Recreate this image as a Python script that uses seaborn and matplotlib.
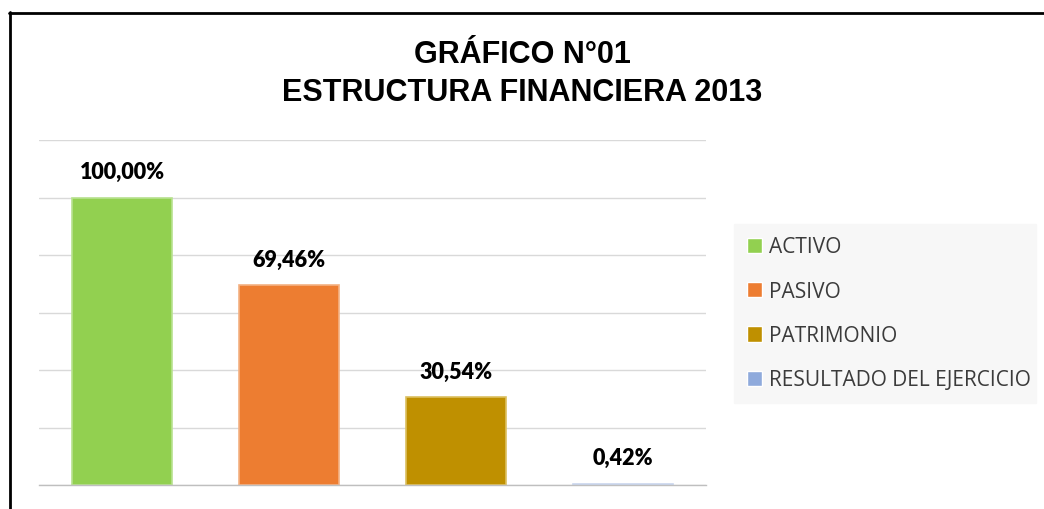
import matplotlib
matplotlib.use("Agg")
import matplotlib.pyplot as plt
import seaborn as sns
import pandas as pd
from matplotlib.lines import Line2D

# ============================================================
# DATA
# ============================================================

categorias = ["ACTIVO", "PASIVO", "PATRIMONIO", "RESULTADO DEL EJERCICIO"]
porcentajes = [100.00, 69.46, 30.54, 0.42]
etiquetas = ["100,00%", "69,46%", "30,54%", "0,42%"]
colores = ["#92d050", "#ed7d31", "#bf9000", "#8faadc"]
bordes = ["#b8e28f", "#f4b183", "#dcc060", "#c9d6ee"]

titulo = "GRÁFICO N°01\nESTRUCTURA FINANCIERA 2013"

# ============================================================
# PLOT
# ============================================================

sns.set_style("white")
plt.rcParams["font.family"] = ["Liberation Sans", "DejaVu Sans"]

df = pd.DataFrame({"cat": categorias, "val": porcentajes})

fig = plt.figure(figsize=(10.44, 5.10), dpi=100)
ax = fig.add_axes([39 / 1044, 1 - 486 / 510, (706 - 39) / 1044, (486 - 141) / 510])

sns.barplot(
    data=df,
    x="cat",
    y="val",
    hue="cat",
    palette=colores,
    saturation=1,
    dodge=False,
    width=0.6,
    ax=ax,
    legend=True,
)

for patch, ec in zip(ax.patches, bordes):
    patch.set_edgecolor(ec)
    patch.set_linewidth(1.2)

ax.set_ylim(0, 120)
ax.set_xlim(-0.5, 3.5)
ax.set_yticks([0, 20, 40, 60, 80, 100, 120])
ax.yaxis.grid(True, color="#d9d9d9", linewidth=1.0)
ax.set_axisbelow(True)
ax.set_yticklabels([])
ax.set_xticks([])
ax.set_xlabel("")
ax.set_ylabel("")
ax.tick_params(length=0)
for s in ["top", "right", "left"]:
    ax.spines[s].set_visible(False)
ax.spines["bottom"].set_color("#bfbfbf")
ax.spines["bottom"].set_linewidth(1.0)

# data labels
for i, (v, t) in enumerate(zip(porcentajes, etiquetas)):
    ax.annotate(
        t,
        (i, v),
        xytext=(0, 26),
        textcoords="offset pixels",
        ha="center",
        va="center",
        fontsize=15.5,
        fontweight="heavy",
        family=["Lato", "DejaVu Sans"],
        color="#000000",
    )

# legend
handles, labels = ax.get_legend_handles_labels()
ax.get_legend().remove()
leg = fig.legend(
    handles,
    labels,
    loc="upper left",
    bbox_to_anchor=(734 / 1044, 1 - 225 / 510, (1036 - 734) / 1044, 0.0),
    mode="expand",
    frameon=True,
    fancybox=False,
    facecolor="#f7f7f7",
    edgecolor="#f7f7f7",
    framealpha=1,
    handlelength=0.75,
    handleheight=0.75,
    handletextpad=0.35,
    labelspacing=1.12,
    borderpad=0.6,
    borderaxespad=0,
    prop={"family": ["Open Sans", "DejaVu Sans"], "size": 15},
    labelcolor="#3b3b3b",
)

# title
fig.text(
    522 / 1044,
    1 - 74 / 510,
    titulo,
    ha="center",
    va="center",
    fontsize=22,
    fontweight="bold",
    linespacing=1.32,
    color="black",
)

# frame lines around chart area
fig.add_artist(Line2D([10 / 1044, 10 / 1044], [0, 1 - 13 / 510], color="black", linewidth=2))
fig.add_artist(Line2D([9.3 / 1044, 1], [1 - 13.5 / 510, 1 - 13.5 / 510], color="black", linewidth=2))

fig.savefig("out.png", dpi=100)
